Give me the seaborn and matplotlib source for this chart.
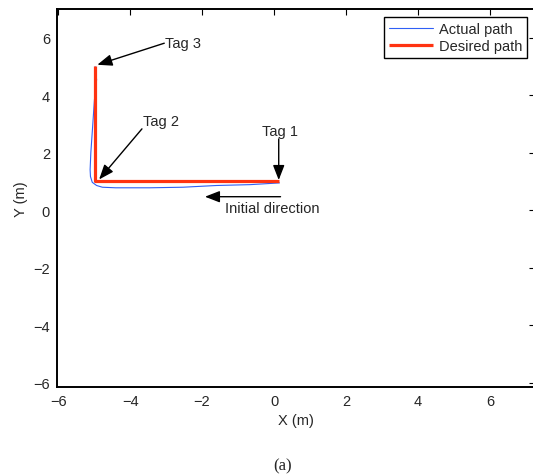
import matplotlib
matplotlib.use("Agg")
import matplotlib.pyplot as plt
import seaborn as sns
import pandas as pd
import numpy as np

# Data
actual_x = [0.15, -0.66, -1.6, -2.53, -3.46, -4.4, -4.77, -4.93, -5.05, -5.1, -5.11, -5.09, -5.04, -4.99, -4.93, -4.97]
actual_y = [0.95, 0.89, 0.86, 0.80, 0.78, 0.78, 0.80, 0.86, 0.97, 1.17, 1.41, 2.0, 2.91, 3.84, 4.54, 4.99]
desired_x = [0.15, -4.97, -4.97]
desired_y = [1.0, 1.0, 5.0]

labels = ["Tag 3", "Tag 2", "Tag 1", "Initial direction"]
text_xy = [(-3.04, 5.81), (-3.65, 3.12), (-0.34, 2.74), (-1.36, 0.08)]
tail_xy = [(-3.05, 5.81), (-3.67, 2.83), (0.13, 2.48), (0.18, 0.47)]
head_xy = [(-4.91, 5.06), (-4.86, 1.07), (0.13, 1.05), (-1.92, 0.47)]

xticks = [-6, -4, -2, 0, 2, 4, 6]
yticks = [-6, -4, -2, 0, 2, 4, 6]

sns.set_style("white")
plt.rcParams['font.family'] = ['Liberation Sans', 'DejaVu Sans']
plt.rcParams['axes.unicode_minus'] = True

fig = plt.figure(figsize=(5.33, 4.77), dpi=100)
ax = fig.add_axes([57 / 533, 1 - 388 / 477, 478 / 533, 378 / 477])

df_a = pd.DataFrame({"x": actual_x, "y": actual_y, "s": "Actual path"})
df_d = pd.DataFrame({"x": desired_x, "y": desired_y, "s": "Desired path"})
sns.lineplot(data=df_a, x="x", y="y", sort=False, estimator=None, color="#2f5ff5",
             lw=0.8, ax=ax, label="Actual path")
sns.lineplot(data=df_d, x="x", y="y", sort=False, estimator=None, color="#ff3311",
             lw=2.3, ax=ax, label="Desired path", solid_capstyle="butt")

for lab, t, tail, head in zip(labels, text_xy, tail_xy, head_xy):
    ax.annotate("", xy=head, xytext=tail,
                arrowprops=dict(arrowstyle="-|>,head_length=0.9,head_width=0.35",
                                color="black", lw=1.0, shrinkA=0, shrinkB=0))
    ax.text(t[0], t[1], lab, fontsize=10.5, va="center", ha="left")

ax.set_xlim(-6.03, 7.25)
ax.set_ylim(-6.15, 7.0)
ax.set_xticks(xticks)
ax.set_yticks(yticks)
ax.tick_params(direction="in", length=4, width=0.8, top=True, right=True,
               labelsize=10.5, pad=5, color="black")
ax.set_xlabel("X (m)", fontsize=10.5, labelpad=4)
ax.set_ylabel("Y (m)", fontsize=10.5, labelpad=4)
for s in ax.spines.values():
    s.set_linewidth(1.4)
    s.set_color("black")

leg = ax.legend(loc="upper right", bbox_to_anchor=((527 - 57) / 478, 0.979), fontsize=10.5,
                frameon=True, fancybox=False, edgecolor="black", framealpha=1,
                borderpad=0.35, handlelength=3.0, handletextpad=0.4,
                labelspacing=0.2, borderaxespad=0)
leg.get_frame().set_linewidth(1.0)

fig.text(283 / 533, 1 - 466 / 477, "(a)", fontsize=12, ha="center", va="center",
         family=["Liberation Serif", "DejaVu Serif"])

fig.savefig("out.png", dpi=100)
